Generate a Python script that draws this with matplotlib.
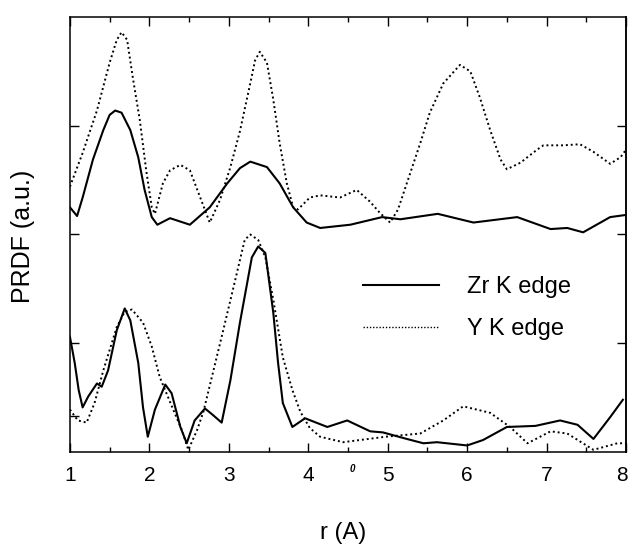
import numpy as np
import matplotlib
matplotlib.use("Agg")
import matplotlib.pyplot as plt
import matplotlib.transforms as mtransforms
from matplotlib.lines import Line2D

plt.rcParams["font.family"] = ["Liberation Sans", "DejaVu Sans"]

# ================= DATA =================
# upper pair (offset curves)
zr_top_r = [1.00, 1.09, 1.16, 1.29, 1.42, 1.50, 1.57, 1.65, 1.76, 1.86, 1.94, 2.03, 2.10,
            2.26, 2.51, 2.76, 2.98, 3.14, 3.27, 3.48, 3.64, 3.81, 3.98, 4.15, 4.53, 4.93,
            5.16, 5.63, 6.08, 6.63, 7.05, 7.26, 7.46, 7.80, 8.00]
zr_top = [2.25, 2.17, 2.34, 2.69, 2.96, 3.10, 3.14, 3.12, 2.96, 2.71, 2.41, 2.16, 2.09,
          2.15, 2.09, 2.25, 2.47, 2.61, 2.67, 2.62, 2.47, 2.25, 2.11, 2.06, 2.09, 2.16,
          2.14, 2.19, 2.11, 2.16, 2.05, 2.06, 2.02, 2.16, 2.18]

y_top_r = [1.00, 1.16, 1.34, 1.50, 1.59, 1.65, 1.72, 1.79, 1.88, 1.96, 2.03, 2.07, 2.17,
           2.26, 2.39, 2.51, 2.64, 2.76, 2.89, 3.02, 3.14, 3.27, 3.33, 3.39, 3.48, 3.56,
           3.64, 3.73, 3.81, 3.87, 4.02, 4.15, 4.40, 4.61, 4.78, 4.90, 5.03, 5.13, 5.24,
           5.41, 5.53, 5.70, 5.91, 6.04, 6.16, 6.29, 6.42, 6.50, 6.67, 6.88, 6.96, 7.21,
           7.42, 7.59, 7.80, 7.93, 8.00]
y_top = [2.44, 2.75, 3.14, 3.58, 3.79, 3.86, 3.79, 3.45, 3.05, 2.59, 2.25, 2.19, 2.47,
         2.59, 2.64, 2.59, 2.34, 2.11, 2.32, 2.62, 2.95, 3.39, 3.60, 3.68, 3.58, 3.24,
         2.84, 2.47, 2.25, 2.23, 2.34, 2.36, 2.34, 2.41, 2.30, 2.20, 2.11, 2.23, 2.47,
         2.84, 3.12, 3.39, 3.56, 3.50, 3.26, 2.96, 2.69, 2.60, 2.66, 2.78, 2.82, 2.82,
         2.83, 2.76, 2.65, 2.71, 2.78]

# lower pair
zr_bot_r = [1.00, 1.06, 1.11, 1.16, 1.23, 1.34, 1.40, 1.48, 1.59, 1.69, 1.76, 1.86, 1.92,
            1.98, 2.07, 2.20, 2.28, 2.39, 2.47, 2.57, 2.70, 2.80, 2.91, 3.02, 3.14, 3.29,
            3.37, 3.46, 3.56, 3.62, 3.68, 3.80, 3.96, 4.24, 4.49, 4.78, 4.94, 5.24, 5.45,
            5.62, 6.00, 6.20, 6.50, 6.86, 7.17, 7.39, 7.59, 7.80, 7.96]
zr_bot = [1.06, 0.82, 0.57, 0.41, 0.51, 0.63, 0.60, 0.75, 1.12, 1.32, 1.21, 0.82, 0.41,
          0.14, 0.39, 0.62, 0.54, 0.23, 0.08, 0.29, 0.40, 0.34, 0.27, 0.66, 1.19, 1.79,
          1.89, 1.83, 1.28, 0.82, 0.45, 0.23, 0.31, 0.23, 0.29, 0.19, 0.18, 0.12, 0.08,
          0.09, 0.06, 0.11, 0.23, 0.24, 0.29, 0.25, 0.12, 0.32, 0.48]

y_bot_r = [1.00, 1.10, 1.21, 1.31, 1.42, 1.59, 1.69, 1.78, 1.92, 2.03, 2.13, 2.30, 2.41,
           2.49, 2.60, 2.68, 2.80, 2.93, 3.08, 3.20, 3.27, 3.37, 3.46, 3.56, 3.68, 3.80,
           3.90, 4.02, 4.15, 4.44, 4.97, 5.41, 5.70, 5.95, 6.29, 6.54, 6.76, 7.05, 7.26,
           7.59, 7.89, 8.00]
y_bot = [0.39, 0.29, 0.27, 0.45, 0.75, 1.15, 1.29, 1.31, 1.19, 0.97, 0.69, 0.39, 0.20,
         0.02, 0.20, 0.37, 0.73, 1.12, 1.58, 1.95, 2.00, 1.95, 1.79, 1.40, 0.87, 0.57,
         0.37, 0.22, 0.14, 0.09, 0.14, 0.17, 0.29, 0.42, 0.36, 0.23, 0.08, 0.19, 0.17,
         0.02, 0.08, 0.08]

x_ticks = [1, 2, 3, 4, 5, 6, 7, 8]
y_ticks_left = [0.33, 1, 2, 3]
y_ticks_right = [1, 2, 3]
# =========================================

DOT = (0, (1, 1.5))

fig = plt.figure(figsize=(6.30, 5.47), dpi=100)
ax = fig.add_axes([0.111, 0.1737, 0.8827, 0.7952])

ax.plot(zr_top_r, zr_top, color="black", lw=1.5)
ax.plot(y_top_r, y_top, color="black", lw=1.4, linestyle=DOT)
ax.plot(zr_bot_r, zr_bot, color="black", lw=1.5)
ax.plot(y_bot_r, y_bot, color="black", lw=1.4, linestyle=DOT)

ax.set_xlim(1, 8)
ax.set_ylim(0, 4)

ax.set_xticks(x_ticks)
ax.set_xticklabels([str(t) for t in x_ticks], fontsize=15)
ax.set_xticks(np.arange(1.5, 8, 1.0), minor=True)
ax.set_yticks(y_ticks_left)
ax.set_yticklabels([])
ax.tick_params(which="major", direction="in", length=6.5, width=1.0,
               top=True, bottom=True, left=True, right=False, pad=10)
ax.tick_params(which="minor", direction="in", length=3.5, width=1.0,
               top=True, bottom=True)

# last label sits right on the figure edge; nudge it in a little
last = ax.get_xticklabels()[-1]
last.set_transform(last.get_transform() +
                   mtransforms.ScaledTranslation(-3 / 72, 0, fig.dpi_scale_trans))

sec = ax.secondary_yaxis("right")
sec.set_yticks(y_ticks_right)
sec.set_yticklabels([])
sec.tick_params(direction="in", length=6.5, width=1.0)

for sp in ax.spines.values():
    sp.set_linewidth(1.1)
sec.spines["right"].set_linewidth(1.1)

ax.set_ylabel("PRDF (a.u.)", fontsize=18)
ax.yaxis.set_label_coords(-0.062, 0.496)
ax.set_xlabel("r (A)", fontsize=17)
ax.xaxis.set_label_coords(0.491, -0.162)

# small ring mark over the A unit, as in the scan
ax.text(0.507, -0.038, "0", transform=ax.transAxes, fontsize=7, style="italic",
        fontweight="bold", ha="center", va="center")

handles = [Line2D([], [], color="black", lw=1.5),
           Line2D([], [], color="black", lw=1.0, linestyle=(0, (1, 1.3)))]
ax.legend(handles, ["Zr K edge", "Y K edge"], loc="upper left",
          bbox_to_anchor=(0.527, 0.404), frameon=False, fontsize=17,
          handlelength=3.2, handletextpad=1.2, labelspacing=0.85,
          borderpad=0, borderaxespad=0)

fig.savefig("out.png", dpi=100)
